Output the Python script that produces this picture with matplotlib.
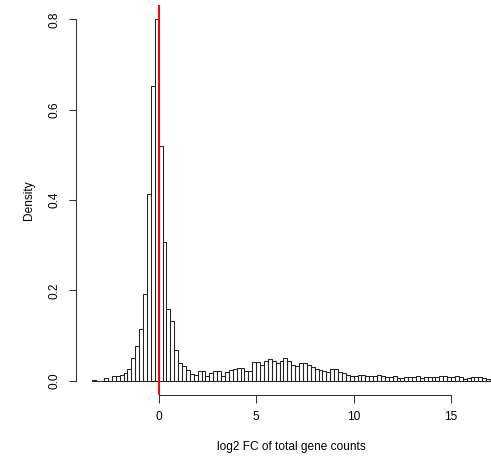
import numpy as np
import matplotlib
matplotlib.use("Agg")
import matplotlib.pyplot as plt

# histogram of log2 fold changes, bins of 0.2 starting at -3.4
bin_start = -3.4
bin_width = 0.2
density = [
    0.002, 0.0, 0.0, 0.005, 0.0, 0.0096, 0.0096, 0.013, 0.016, 0.026,   # -3.4 .. -1.6
    0.049, 0.077, 0.115, 0.192, 0.413, 0.652, 0.801,                    # -1.4 .. -0.2
    0.519, 0.306, 0.159, 0.131, 0.068, 0.038, 0.033, 0.023, 0.015, 0.013,  # 0.0 .. 1.8
    0.021, 0.021, 0.011, 0.016, 0.021, 0.021, 0.010, 0.018, 0.024, 0.026,  # 2.0 .. 3.8
    0.027, 0.027, 0.021, 0.021, 0.041, 0.041, 0.034, 0.043, 0.047, 0.044,  # 4.0 .. 5.8
    0.039, 0.044, 0.049, 0.043, 0.034, 0.033, 0.038, 0.039, 0.034, 0.030,  # 6.0 .. 7.8
    0.025, 0.024, 0.022, 0.019, 0.026, 0.025, 0.018, 0.016, 0.013, 0.009,  # 8.0 .. 9.8
    0.009, 0.012, 0.013, 0.010, 0.009, 0.009, 0.013, 0.009, 0.007, 0.007,  # 10.0 .. 11.8
    0.009, 0.006, 0.006, 0.0074, 0.0074, 0.0089, 0.0103, 0.006, 0.0074, 0.0089,  # 12.0 .. 13.8
    0.0074, 0.0074, 0.0103, 0.0103, 0.0074, 0.0074, 0.0103, 0.0074, 0.0044, 0.006,  # 14.0 .. 15.8
    0.0074, 0.0089, 0.0089, 0.006, 0.003,                                # 16.0 .. 16.8
]
bin_left = bin_start + bin_width * np.arange(len(density))

x_ticks = [0, 5, 10, 15]
y_ticks = [0.0, 0.2, 0.4, 0.6, 0.8]
y_ticklabels = ["0.0", "0.2", "0.4", "0.6", "0.8"]

plt.rcParams['font.family'] = ['Liberation Sans', 'DejaVu Sans']
plt.rcParams['font.size'] = 8.6

fig = plt.figure(figsize=(4.91, 4.63), dpi=100)
ax = fig.add_axes([0.1558, 0.1469, 0.8747, 0.8423])

ax.bar(bin_left, density, width=bin_width, align='edge',
       fill=False, edgecolor='#222222', linewidth=0.75)
ax.axvline(0, color='red', linewidth=1.4)

# R-like axis limits (data range padded by 4%)
ax.set_xlim(-4.216, 17.816)
ax.set_ylim(-0.032, 0.832)

for side in ['top', 'right']:
    ax.spines[side].set_visible(False)
ax.spines['bottom'].set_bounds(0, 15)
ax.spines['left'].set_bounds(0, 0.8)
for side in ['bottom', 'left']:
    ax.spines[side].set_linewidth(0.75)
    ax.spines[side].set_color('#333333')

ax.set_xticks(x_ticks)
ax.set_yticks(y_ticks)
ax.set_yticklabels(y_ticklabels, rotation=90, va='center')
ax.tick_params(direction='out', length=5.4, width=0.75, pad=6, color='#333333')

ax.set_xlabel('log2 FC of total gene counts', labelpad=13)
ax.set_ylabel('Density', labelpad=10)

fig.savefig('out.png', dpi=100)
